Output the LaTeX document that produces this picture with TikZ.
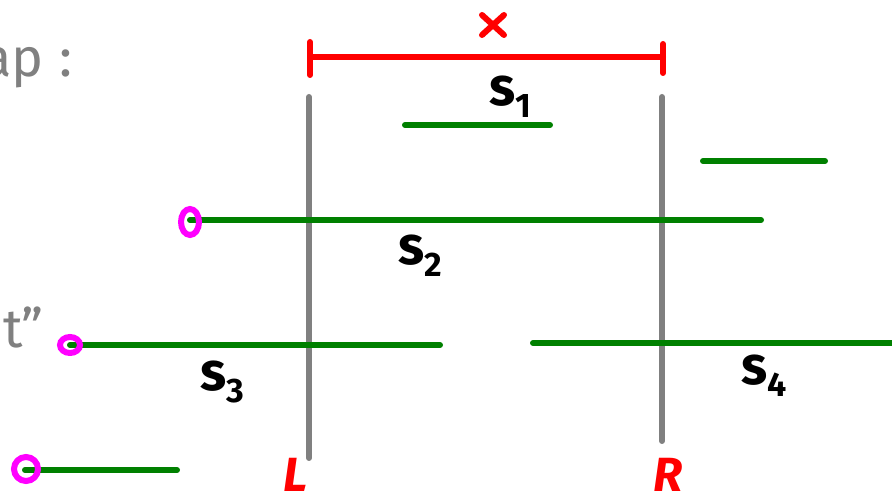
\documentclass[tikz,border=0pt]{standalone}
\usepackage{fontspec}
\setmainfont{Fira Sans}
\begin{document}
\begin{tikzpicture}[x=1pt,y=-1pt,
  seg/.style={draw={rgb,255:red,0;green,128;blue,0},line width=6pt,line cap=round},
  wall/.style={draw={rgb,255:red,128;green,128;blue,128},line width=6pt,line cap=round},
  redline/.style={draw={rgb,255:red,255;green,0;blue,0},line width=6pt,line cap=round},
  endpt/.style={draw={rgb,255:red,255;green,0;blue,255},line width=6pt},
  lab/.style={font=\fontsize{54}{54}\selectfont\bfseries,text=black,inner sep=0pt},
  redlab/.style={font=\fontsize{48}{48}\selectfont\bfseries\itshape,text={rgb,255:red,255;green,0;blue,0},inner sep=0pt},
  graytxt/.style={font=\fontsize{54}{54}\selectfont,text={rgb,255:red,128;green,128;blue,128},inner sep=0pt}]
\useasboundingbox (0,0) rectangle (892,502);
% partial gray texts at left edge
\node[graytxt,anchor=base east] (gap) at (44,77) {ap};
\node[graytxt,anchor=base] (colon) at (66,77) {:};
\node[graytxt,anchor=base east] (quote) at (44,348) {t”};
% red bracket
\coordinate (xl) at (310,57);
\coordinate (xr) at (663,57);
\draw[redline] (xl) -- (xr);
\draw[redline] (310,42) -- (310,75);
\draw[redline] (663,44) -- (663,73);
\node (cross) at (493,25) {};
\draw[redline] ([shift={(-11,-10)}]cross.center) -- ([shift={(11,10)}]cross.center);
\draw[redline] ([shift={(-11,10)}]cross.center) -- ([shift={(11,-10)}]cross.center);
% walls
\coordinate (Ltop) at (309,97); \coordinate (Lbot) at (309,458);
\coordinate (Rtop) at (662,97); \coordinate (Rbot) at (662,441);
\draw[wall] (Ltop) -- (Lbot);
\draw[wall] (Rtop) -- (Rbot);
% segments
\coordinate (a1) at (405,125); \coordinate (b1) at (550,125);
\coordinate (a5) at (703,161); \coordinate (b5) at (825,161);
\coordinate (a2) at (190,220); \coordinate (b2) at (761,220);
\coordinate (a3) at (70,345); \coordinate (b3) at (440,345);
\coordinate (a4) at (533,343); \coordinate (b4) at (895,343);
\coordinate (a6) at (25,470); \coordinate (b6) at (177,470);
\draw[seg] (a1) -- (b1);
\draw[seg] (a5) -- (b5);
\draw[seg] (a2) -- (b2);
\draw[seg] (a3) -- (b3);
\draw[seg] (a4) -- (b4);
\draw[seg] (a6) -- (b6);
% endpoints
\draw[endpt] (190,222) ellipse [x radius=9,y radius=13];
\draw[endpt] (70,345) ellipse [x radius=10,y radius=8];
\draw[endpt] (26,469) ellipse [x radius=12,y radius=12];
% labels
\node[lab] (s1) at (510,97) {s\raisebox{-12pt}{\fontsize{34}{34}\selectfont 1}};
\node[lab] (s2) at (420,256) {s\raisebox{-12pt}{\fontsize{34}{34}\selectfont 2}};
\node[lab] (s3) at (222,382) {s\raisebox{-12pt}{\fontsize{34}{34}\selectfont 3}};
\node[lab] (s4) at (764,376) {s\raisebox{-12pt}{\fontsize{34}{34}\selectfont 4}};
\node[redlab,anchor=base] (L) at (296,492) {L};
\node[redlab,anchor=base] (R) at (668,492) {R};
\end{tikzpicture}
\end{document}
